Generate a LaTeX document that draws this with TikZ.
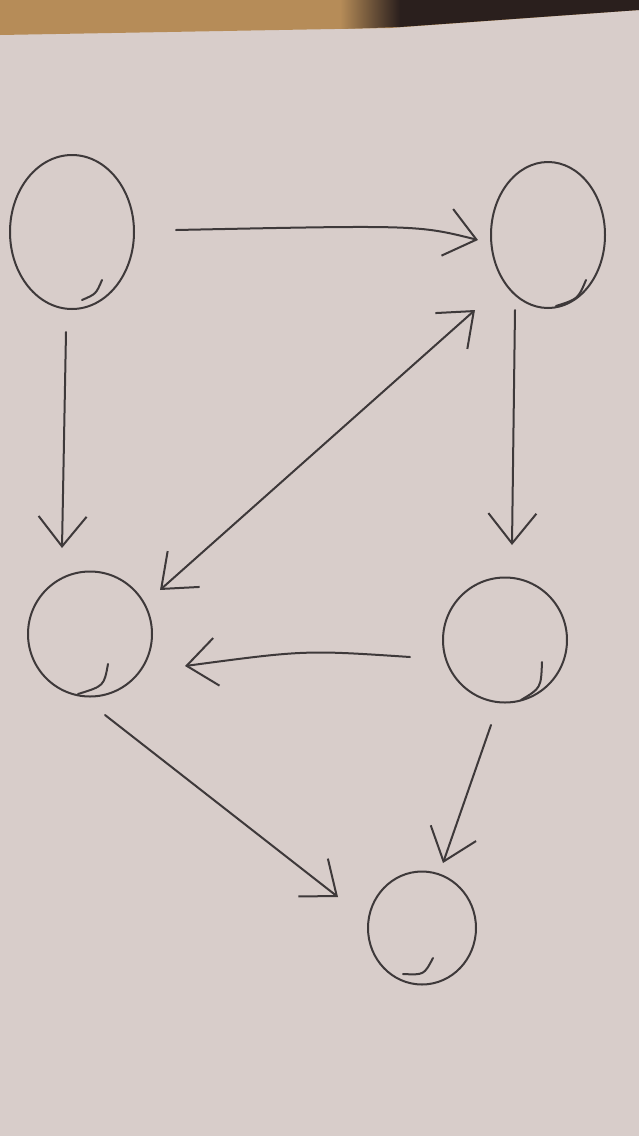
\documentclass[tikz,border=0pt]{standalone}
\usetikzlibrary{shapes.geometric,arrows.meta}
\definecolor{paper}{HTML}{D8CDCA}
\definecolor{desk}{HTML}{B68C58}
\definecolor{deskdark}{HTML}{2A1F1D}
\definecolor{ink}{HTML}{3E393A}
\begin{document}
\begin{tikzpicture}[x=1pt,y=-1pt,
  pen/.style={draw=ink,line width=2pt,line cap=round,line join=round},
  circ/.style={pen,ellipse,inner sep=0pt},
  tip/.style={Straight Barb[length=30pt,width=48pt,line width=2pt]},
  edge/.style={pen,-{Straight Barb[length=30pt,width=48pt,line width=2pt]}},
  dedge/.style={pen,{Straight Barb[length=30pt,width=48pt,line width=2pt]}-{Straight Barb[length=30pt,width=48pt,line width=2pt]}}]
  % sheet and desk
  \useasboundingbox (0,0) rectangle (639,1136);
  \fill[paper] (0,0) rectangle (639,1136);
  \fill[desk] (0,0) -- (639,0) -- (639,10) -- (390,28) -- (0,35) -- cycle;
  \shade[left color=desk,right color=deskdark] (340,0) -- (400,0) -- (400,27) -- (340,29) -- cycle;
  \fill[deskdark] (400,0) -- (639,0) -- (639,10) -- (400,27) -- cycle;

  % vertices
  \node[circ,minimum width=124pt,minimum height=154pt] (A) at (72,232) {};
  \node[circ,minimum width=114pt,minimum height=146pt] (B) at (548,235) {};
  \node[circ,minimum width=124pt,minimum height=125pt] (C) at (90,634) {};
  \node[circ,minimum width=124pt,minimum height=125pt] (D) at (505,640) {};
  \node[circ,minimum width=108pt,minimum height=113pt] (E) at (422,928) {};

  % pen overlaps where each loop was closed
  \draw[pen] ([shift={(30,48)}]A.center) .. controls ([shift={(24,62)}]A.center) .. ([shift={(10,68)}]A.center);
  \draw[pen] ([shift={(38,45)}]B.center) .. controls ([shift={(30,64)}]B.center) .. ([shift={(8,71)}]B.center);
  \draw[pen] ([shift={(18,30)}]C.center) .. controls ([shift={(14,52)}]C.center) .. ([shift={(-12,60)}]C.center);
  \draw[pen] ([shift={(37,22)}]D.center) .. controls ([shift={(36,48)}]D.center) .. ([shift={(16,60)}]D.center);
  \draw[pen] ([shift={(11,30)}]E.center) .. controls ([shift={(2,47)}]E.center) .. ([shift={(-19,46)}]E.center);

  % connectors
  \draw[edge] ([shift={(104,-2)}]A.center) .. controls ([shift={(-130,-10)}]B.center) .. ([shift={(-70,5)}]B.center);
  \draw[edge] ([shift={(-6,100)}]A.center) -- ([shift={(-28,-86)}]C.center);
  \draw[edge] ([shift={(-33,75)}]B.center) -- ([shift={(7,-95)}]D.center);
  \draw[dedge] ([shift={(70,-44)}]C.center) -- ([shift={(-73,75)}]B.center);
  \draw[edge] ([shift={(-95,17)}]D.center) .. controls ([shift={(-200,10)}]D.center) .. ([shift={(95,32)}]C.center);
  \draw[edge] ([shift={(15,81)}]C.center) -- ([shift={(-84,-31)}]E.center);
  \draw[edge] ([shift={(-14,85)}]D.center) -- ([shift={(21,-65)}]E.center);
\end{tikzpicture}
\end{document}
